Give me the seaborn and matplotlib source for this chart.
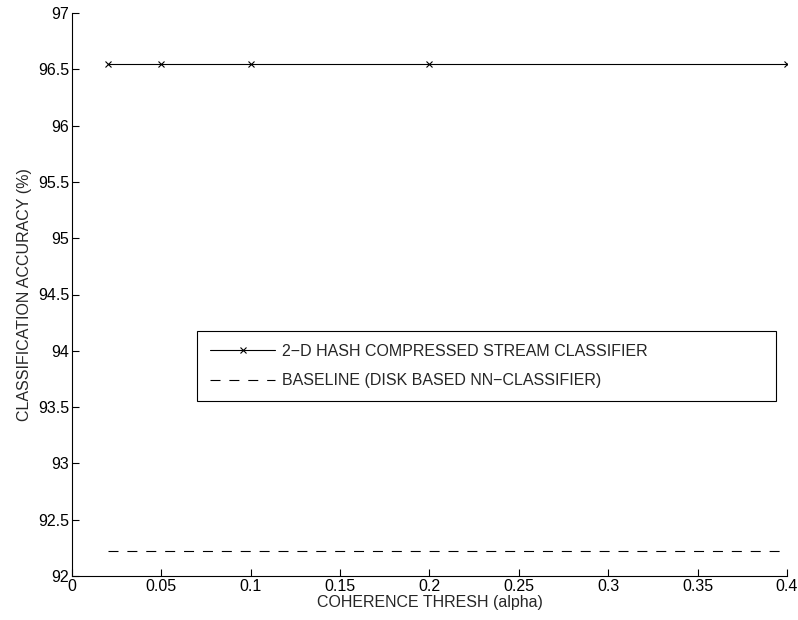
import numpy as np
import pandas as pd
import matplotlib
matplotlib.use("Agg")
import matplotlib.pyplot as plt
import seaborn as sns

# --- data ---
alpha = [0.02, 0.05, 0.1, 0.2, 0.4]
hash_acc = [96.545, 96.545, 96.545, 96.545, 96.545]
baseline_acc = [92.22, 92.22, 92.22, 92.22, 92.22]

labels = ["2\u2212D HASH COMPRESSED STREAM CLASSIFIER",
          "BASELINE (DISK BASED NN\u2212CLASSIFIER)"]
xticks = [0, 0.05, 0.1, 0.15, 0.2, 0.25, 0.3, 0.35, 0.4]
yticks = [92, 92.5, 93, 93.5, 94, 94.5, 95, 95.5, 96, 96.5, 97]

sns.set_style("ticks")
plt.rcParams['font.family'] = ['Liberation Sans', 'DejaVu Sans']
plt.rcParams['font.size'] = 11.5
plt.rcParams['xtick.direction'] = 'in'
plt.rcParams['ytick.direction'] = 'in'

df = pd.DataFrame({"alpha": alpha, "hash": hash_acc, "base": baseline_acc})

fig = plt.figure(figsize=(7.98, 6.2), dpi=100)
ax = fig.add_axes([0.0902, 0.071, 0.8960, 0.908])

sns.lineplot(data=df, x="alpha", y="hash", ax=ax, color='k', linewidth=0.8,
             marker='x', markersize=5, markeredgewidth=0.8,
             markeredgecolor='k', label=labels[0])
sns.lineplot(data=df, x="alpha", y="base", ax=ax, color='k', linewidth=0.8,
             label=labels[1])
ax.lines[-1].set_dashes((9, 8))

ax.set_xlim(0, 0.4)
ax.set_ylim(92, 97)
ax.set_xticks(xticks)
ax.set_xticklabels([f"{t:g}" for t in xticks])
ax.set_yticks(yticks)
ax.set_yticklabels([f"{t:g}" for t in yticks])
ax.tick_params(length=5, width=0.8, colors='k', labelsize=11.5, pad=2)
for s in ['left', 'bottom']:
    ax.spines[s].set_linewidth(0.8)
    ax.spines[s].set_color('k')
sns.despine(ax=ax)

ax.set_xlabel("COHERENCE THRESH (alpha)", fontsize=11.5, labelpad=1)
ax.set_ylabel("CLASSIFICATION ACCURACY (%)", fontsize=11.5, labelpad=4)

leg = ax.legend(loc='lower left', bbox_to_anchor=(0.175, 0.311, 0.81, 0.12),
                mode='expand', fontsize=11.5,
                frameon=True, fancybox=False, edgecolor='k', framealpha=1,
                handlelength=4.1, handletextpad=0.4, borderpad=0.8,
                labelspacing=0.9, borderaxespad=0)
leg.get_frame().set_linewidth(0.8)

fig.savefig("out.png", dpi=100)
